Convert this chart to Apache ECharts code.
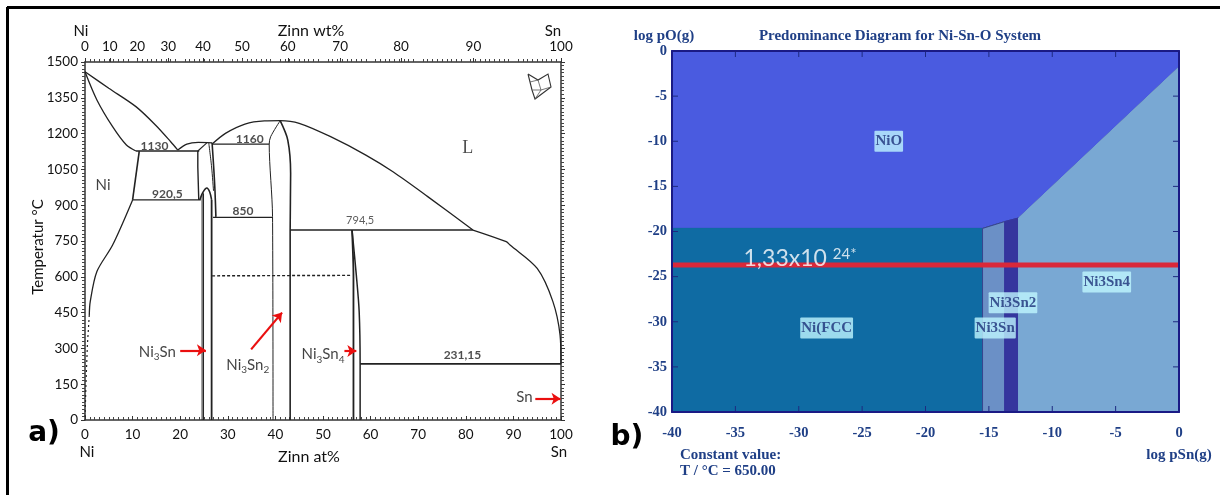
<!DOCTYPE html>
<html>
<head>
<meta charset="utf-8">
<style>html,body{margin:0;padding:0;background:#fff}#c{width:1220px;height:495px}</style>
<script src="https://cdn.jsdelivr.net/npm/echarts@6/dist/echarts.min.js"></script>
</head>
<body>
<div id="c"></div>
<script>
// ---- Panel a: Ni-Sn phase diagram, [at% Sn, T in °C]
const liquidusNi = [[0,1459],[5,1390],[10.7,1313],[14.8,1236],[18,1166],[19.5,1131]];
const solidusNi = [[0,1459],[2.5,1341],[5.8,1229],[8.7,1152],[10.7,1127]];
const eutectic1130 = [[10.7,1127],[24,1127]];
const domeNi3Sn = [[19.5,1131],[21.4,1156],[23.8,1163],[26.7,1161]];
const ni3SnHighLeft = [[23.7,1127],[23.7,1060],[23.9,922]];
const ni3SnHighTop = [[23.7,1127],[25.6,1161]];
const ni3SnHighRight = [[26.7,1161],[27.0,1070],[27.3,964],[27.5,851]];
const ni3SnHighInner = [[26.0,1161],[26.6,1060],[27.0,960]];
const eutectoid920 = [[10,922],[24.3,922]];
const ni3SnLowDome = [[24.1,922],[24.8,955],[25.6,972],[26.2,955],[26.6,922]];
const ni3SnLeft = [[24.6,945],[24.6,0]];
const ni3SnLeft2 = [[24.9,950],[24.9,0]];
const ni3SnRight = [[26.6,922],[26.6,0]];
const solvusNiTop = [[11.4,1127],[10,922]];
const solvusNi = [[10,922],[5.8,733],[2.5,622],[1.1,496],[0.9,440]];
const solvusNiLow = [[0.9,440],[0.5,314],[0.2,150],[0,0]];
const eutectic1160 = [[26.7,1156],[38.7,1156]];
const liquidusMid = [[26.7,1156],[29.5,1201],[33.6,1240],[37.7,1253],[41,1254],[45,1243],[51.6,1187],[59,1110],[64.7,1040],[72,936],[81.5,796]];
const liquidusSn = [[81.5,796],[88.5,747],[89.3,733],[95,635],[98.3,496],[99.8,356],[100,235]];
const ni3Sn2Left = [[41,1254],[39,1187],[38.7,1156],[39.4,852],[39.5,0]];
const ni3Sn2Right = [[41,1254],[42.6,1173],[43.2,1033],[43.1,796],[43.1,0]];
const eutectoid850 = [[26.9,849],[39.4,849]];
const eutectic794 = [[43.1,796],[81.5,796]];
const ni3Sn4Left = [[56.1,796],[56.4,600],[56.4,0]];
const ni3Sn4Right = [[56.1,796],[57,607],[57.6,454],[57.8,235],[57.8,0]];
const eutectic231 = [[57.8,235],[100,235]];
const transition600 = [[26.7,604],[56.1,606]];

// text labels on panel a: [at%, T, text]
const numberLabels = [[14.6,1148,'1130'],[34.6,1177,'1160'],[17.3,945,'920,5'],[33.2,874,'850'],[79.3,270,'231,15']];
const smallNumberLabels = [[57.8,838,'794,5']];
const phaseLabels = [[15.2,286,'{n|Ni}{s|3}{n|Sn}'],[34.2,230,'{n|Ni}{s|3}{n|Sn}{s|2}'],[50,275,'{n|Ni}{s|3}{n|Sn}{s|4}'],[92.3,94,'{n|Sn}'],[3.8,985,'{n|Ni}']];
const liquidLabel = [[80.4,1138,'L']];
// red arrows: start and end, [at%, T]
const arrows = [
  [[20,292],[25.4,292]],
  [[34.9,296],[41.4,450]],
  [[54.5,289],[57,289]],
  [[94.6,89],[99.9,89]]
];
// axes
const wtTickLabels = ['0','10','20','30','40','50','60','70','80','90','100'];
const wtTickAt = [0,5.2,11,17.5,24.8,33,42.6,53.6,66.4,81.6,100];

// ---- Panel b: predominance diagram, polygons [log pSn, log pO]
const regionNiO = [[-40,0],[0,0],[0,-1.76],[-12.66,-18.5],[-13.75,-18.9],[-15.5,-19.66],[-40,-19.66]];
const regionNiFcc = [[-40,-19.66],[-15.5,-19.66],[-15.5,-40],[-40,-40]];
const regionNi3Sn = [[-15.5,-19.66],[-13.75,-18.9],[-13.75,-40],[-15.5,-40]];
const regionNi3Sn2 = [[-13.75,-18.9],[-12.66,-18.5],[-12.66,-40],[-13.75,-40]];
const regionNi3Sn4 = [[-12.66,-18.5],[0,-1.76],[0,-40],[-12.66,-40]];
const regions = [regionNiO,regionNiFcc,regionNi3Sn,regionNi3Sn2,regionNi3Sn4];
const regionColors = ['#4a5be0','#0f6ba3','#6b90c6','#35359e','#79a8d3'];
const regionLabels = [[-22.9,-10,'NiO'],[-27.8,-30.7,'Ni(FCC'],[-14.5,-30.7,'Ni3Sn'],[-13.1,-27.9,'Ni3Sn2'],[-5.7,-25.6,'Ni3Sn4']];
const redLine = [[-40,-23.7],[0,-23.7]];
const redLineLabel = [[-29.9,-23.0,'{b|1,33x10 }{s|24*}']];
const innerTicksPSn = [-35,-30,-25,-20,-15,-10,-5];
const innerTicksPO = [-5,-10,-15,-20,-25,-30,-35];

const sans = 'Lato';
const serif = 'Liberation Serif';
const navy = '#1f3f86';
const ink = '#222';

function curve(data, width, extra) {
  return Object.assign({
    type:'line', xAxisIndex:0, yAxisIndex:0, data, symbol:'none', silent:true,
    lineStyle:{color:ink, width:width||1.3}, z:3
  }, extra||{});
}
const soft = {smooth:0.3};
function textLayer(data, size, font, color, extra) {
  return Object.assign({
    type:'scatter', xAxisIndex:0, yAxisIndex:0, data, symbolSize:0, silent:true, z:6,
    label:{show:true, position:'inside', formatter:p=>p.data[2], fontFamily:font, fontSize:size, color}
  }, extra||{});
}
// inward tick pairs on the frame of panel b: [value, 0 for the x axis / 1 for the y axis]
const innerTickData = innerTicksPSn.map(v=>[v,0]).concat(innerTicksPO.map(v=>[v,1]));
const tickLen = 6;

const series = [
  curve(liquidusNi,1.3,soft), curve(solidusNi,1.3,soft), curve(eutectic1130,1.5), curve(domeNi3Sn,1.3,soft),
  curve(ni3SnHighLeft,1.4), curve(ni3SnHighTop,1.1), curve(ni3SnHighRight,1.6,soft), curve(ni3SnHighInner,1,soft),
  curve(eutectoid920,1.3), curve(ni3SnLowDome,1.6,soft), curve(ni3SnLeft,1), curve(ni3SnLeft2,1), curve(ni3SnRight,1.8),
  curve(solvusNiTop,1.6), curve(solvusNi,1.3,soft),
  curve(solvusNiLow,1.2,{lineStyle:{color:ink,width:1.2,type:[2,3]}}),
  curve(eutectic1160,1.3), curve(liquidusMid,1.3,soft), curve(liquidusSn,1.3,soft),
  curve(ni3Sn2Left,1,soft), curve(ni3Sn2Right,1.6,soft),
  curve(eutectoid850,1.3), curve(eutectic794,1.3),
  curve(ni3Sn4Left,1.8,soft), curve(ni3Sn4Right,1.5,soft), curve(eutectic231,1.7),
  curve(transition600,1.4,{lineStyle:{color:ink,width:1.4,type:[3,2]}}),
  curve([],1,{markLine:{silent:true, symbol:['none','arrow'], symbolSize:9, animation:false, label:{show:false},
    lineStyle:{color:'#ea0f0f', width:2.2, type:'solid'},
    data:arrows.map(a=>[{coord:a[0]},{coord:a[1]}])}}),
  textLayer(numberLabels,12,sans,'#222',{label:{show:true,position:'inside',formatter:p=>p.data[2],fontFamily:sans,fontSize:12,fontWeight:'bold',color:'#222'}}),
  textLayer(smallNumberLabels,11,sans,'#333'),
  textLayer(liquidLabel,18,serif,'#222'),
  textLayer(phaseLabels,14,sans,ink,{label:{show:true,position:'inside',formatter:p=>p.data[2],
    rich:{n:{fontFamily:sans,fontSize:15,color:'#111',lineHeight:20},s:{fontFamily:sans,fontSize:10,color:'#111',verticalAlign:'bottom',lineHeight:16,padding:[6,0,0,0]}}}}),
  // panel b
  {type:'custom', xAxisIndex:3, yAxisIndex:2, silent:true, z:1, clip:false, data:regions.map((r,i)=>[i]),
   renderItem:(params,api)=>{
     const i = api.value(0);
     return {type:'polygon', shape:{points:regions[i].map(p=>api.coord(p))},
       style:{fill:regionColors[i], stroke:i===0||i===2?'#37458f':regionColors[i], lineWidth:1}};
   }},
  {type:'line', xAxisIndex:3, yAxisIndex:2, data:redLine, symbol:'none', silent:true, z:4,
   lineStyle:{color:'#d9283a', width:5}},
  {type:'custom', xAxisIndex:3, yAxisIndex:2, silent:true, z:5, clip:false, data:innerTickData,
   encode:{x:-1,y:-1},
   renderItem:(params,api)=>{
     const v = api.value(0), isY = api.value(1)===1;
     const a = isY ? api.coord([-40,v]) : api.coord([v,-40]);
     const b = isY ? api.coord([0,v]) : api.coord([v,0]);
     const style = {stroke:'#1e2a80', lineWidth:1, fill:'none'};
     const dx = isY ? tickLen : 0, dy = isY ? 0 : tickLen;
     return {type:'group', children:[
       {type:'line', shape:{x1:a[0],y1:a[1],x2:a[0]+dx,y2:a[1]-dy}, style},
       {type:'line', shape:{x1:b[0],y1:b[1],x2:b[0]-dx,y2:b[1]+dy}, style}
     ]};
   }},
  {type:'scatter', xAxisIndex:3, yAxisIndex:2, data:regionLabels, symbolSize:0, silent:true, z:6,
   label:{show:true, position:'inside', formatter:p=>p.data[2], fontFamily:serif, fontWeight:'bold', fontSize:15,
     color:'#1c2f78', backgroundColor:'#bff6ff', padding:[3,1,3,1], borderRadius:1}},
  {type:'scatter', xAxisIndex:3, yAxisIndex:2, data:redLineLabel, symbolSize:0, silent:true, z:7,
   label:{show:true, position:'inside', formatter:p=>p.data[2],
     rich:{b:{fontFamily:sans,fontSize:23,color:'#fff'},s:{fontFamily:sans,fontSize:15,color:'#fff',verticalAlign:'top',padding:[0,0,8,0]}}}}
];

const leftLabel = {fontFamily:sans, fontSize:13.5, color:'#111', formatter:v=>String(v)};
const rightLabel = {fontFamily:serif, fontWeight:'bold', fontSize:14.5, color:navy, formatter:v=>String(v)};
const dotTick = {show:true, splitNumber:10, length:3, lineStyle:{color:'#444',width:1}};
const navyAxis = {z:5, axisLine:{onZero:false,lineStyle:{color:'#1a1a85',width:2}}, axisTick:{show:false}, splitLine:{show:false}};
const greyLine = {onZero:false,lineStyle:{color:'#333',width:1.5}};

const option = {
  animation:false,
  backgroundColor:'#fff',
  grid:[
    {left:85, top:62, width:476, height:358},
    {left:672, top:51, width:507, height:361}
  ],
  xAxis:[
    {gridIndex:0, type:'value', position:'bottom', min:0, max:100, interval:10, splitLine:{show:false},
     axisLine:greyLine, axisTick:{inside:true,length:4,lineStyle:{color:'#333'}},
     minorTick:dotTick, axisLabel:Object.assign({margin:8},leftLabel)},
    {gridIndex:0, type:'value', position:'top', min:0, max:100, splitLine:{show:false},
     axisLine:greyLine,
     axisTick:{inside:false,length:4,customValues:wtTickAt,lineStyle:{color:'#333'}},
     axisLabel:Object.assign({},leftLabel,{margin:8,customValues:wtTickAt,
       formatter:v=>{let k=-1;wtTickAt.forEach((t,i)=>{if(Math.abs(t-v)<1e-6)k=i;});return k<0?'':wtTickLabels[k];}})},
    {gridIndex:0, type:'value', position:'top', min:0, max:100, interval:10, splitLine:{show:false},
     axisLine:{show:false,onZero:false}, axisTick:{show:false}, axisLabel:{show:false},
     minorTick:Object.assign({},dotTick,{length:3})},
    Object.assign({gridIndex:1, type:'value', position:'bottom', min:-40, max:0, interval:5,
     axisLabel:Object.assign({margin:14},rightLabel)},navyAxis),
    Object.assign({gridIndex:1, type:'value', position:'top', min:-40, max:0, interval:5,
     axisLabel:{show:false}},navyAxis)
  ],
  yAxis:[
    {gridIndex:0, type:'value', position:'left', min:0, max:1500, interval:150, splitLine:{show:false},
     axisLine:greyLine, axisTick:{inside:false,length:4,lineStyle:{color:'#333'}},
     minorTick:dotTick, axisLabel:Object.assign({margin:7},leftLabel)},
    {gridIndex:0, type:'value', position:'right', min:0, max:1500, interval:150, splitLine:{show:false},
     axisLine:greyLine, axisTick:{inside:false,length:4,lineStyle:{color:'#333'}},
     minorTick:dotTick, axisLabel:{show:false}},
    Object.assign({gridIndex:1, type:'value', position:'left', min:-40, max:0, interval:5,
     axisLabel:Object.assign({margin:5,padding:[10,0,0,0]},rightLabel)},navyAxis),
    Object.assign({gridIndex:1, type:'value', position:'right', min:-40, max:0, interval:5,
     axisLabel:{show:false}},navyAxis)
  ],
  series,
  graphic:[
    // page frame: top and left rules only
    {type:'line', z:20, shape:{x1:7,y1:7.5,x2:1220,y2:7.5}, style:{stroke:'#000',lineWidth:3}},
    {type:'line', z:20, shape:{x1:7.5,y1:7,x2:7.5,y2:495}, style:{stroke:'#000',lineWidth:3}},
    ...[
      ['Ni',81,31,15,sans,'normal','#111','center'],
      ['Zinn wt%',311,31,16,sans,'normal','#111','center'],
      ['Sn',553,31,15,sans,'normal','#111','center'],
      ['Ni',87,452,15,sans,'normal','#111','center'],
      ['Zinn at%',309,457,16,sans,'normal','#111','center'],
      ['Sn',559,452,15,sans,'normal','#111','center'],
      ['a)',44,434,28,'DejaVu Sans','bold','#000','center'],
      ['b)',627,438,28,'DejaVu Sans','bold','#000','center'],
      ['log pO(g)',664,36,15,serif,'bold',navy,'center'],
      ['Predominance Diagram for Ni-Sn-O System',900,36,15,serif,'bold',navy,'center'],
      ['log pSn(g)',1179,455,15,serif,'bold',navy,'center'],
      ['Constant value:',680,455,15,serif,'bold',navy,'left'],
      ['T / °C = 650.00',680,471,15,serif,'bold',navy,'left']
    ].map(t=>({type:'text',z:21,x:t[1],y:t[2],style:{text:t[0],fontSize:t[3],fontFamily:t[4],fontWeight:t[5],fill:t[6],align:t[7],verticalAlign:'middle'}})),
    {type:'text',z:21,x:38,y:247,rotation:Math.PI/2,style:{text:'Temperatur °C',fontSize:15,fontFamily:sans,fill:'#111',align:'center',verticalAlign:'middle'}},
    // crystal sketch in the upper right corner
    {type:'polyline',z:21,shape:{points:[[528,74],[532,90],[535,99],[551,87],[548,74],[538,80],[528,74]]},style:{stroke:'#333',lineWidth:1.1,fill:'none'}},
    {type:'polyline',z:21,shape:{points:[[530,82],[538,80],[541,90],[535,99]]},style:{stroke:'#555',lineWidth:0.8,fill:'none'}},
    {type:'polyline',z:21,shape:{points:[[532,90],[541,90],[551,87]]},style:{stroke:'#555',lineWidth:0.8,fill:'none'}}
  ]
};
const chart = echarts.init(document.getElementById('c'), null, {renderer:'canvas'});
chart.setOption(option);
</script>
</body>
</html>
